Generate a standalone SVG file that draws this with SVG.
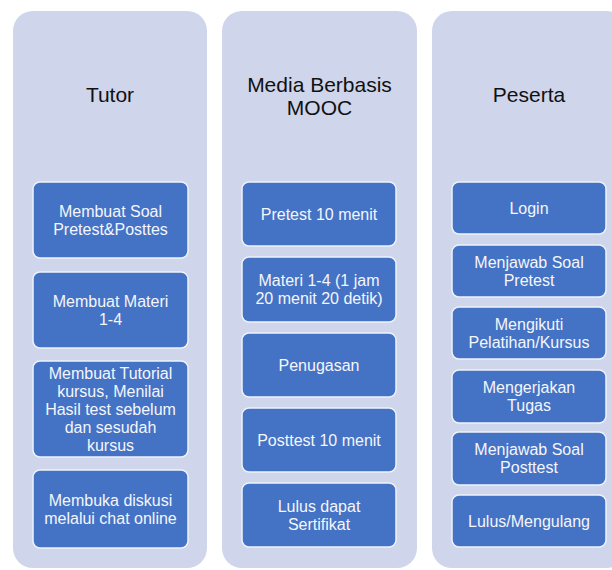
<svg xmlns="http://www.w3.org/2000/svg" width="612" height="570" viewBox="0 0 612 570">
<style>
.panel{fill:#cfd5ea;}
.box{fill:#4472c4;stroke:#eef2fa;stroke-width:1.5;}
.title{font-family:"Liberation Sans",Arial,sans-serif;font-size:21px;fill:#111;text-anchor:middle;}
.lbl{font-family:"Liberation Sans",Arial,sans-serif;font-size:16px;fill:#f4f6fb;text-anchor:middle;}
</style>
<rect width="612" height="570" fill="#ffffff"/>
<g id="col-tutor">
<rect class="panel" x="13" y="11" width="194" height="557" rx="20"/>
<text class="title" x="110" y="102">Tutor</text>
</g>
<g id="col-media">
<rect class="panel" x="222" y="11" width="195" height="557" rx="20"/>
<text class="title" x="319.5" y="91.5">Media Berbasis</text>
<text class="title" x="319.5" y="115">MOOC</text>
</g>
<g id="col-peserta">
<rect class="panel" x="432" y="11" width="195" height="557" rx="20"/>
<text class="title" x="529" y="102">Peserta</text>
</g>
<g id="connectors"></g>
<!-- Tutor boxes -->
<g id="t1"><rect class="box" x="33" y="182" width="155" height="76" rx="7"/>
<text class="lbl" x="110.5" y="216.7">Membuat Soal</text><text class="lbl" x="110.5" y="234.7">Pretest&amp;Posttes</text></g>
<g id="t2"><rect class="box" x="33" y="272" width="155" height="76" rx="7"/>
<text class="lbl" x="110.5" y="306.7">Membuat Materi</text><text class="lbl" x="110.5" y="324.7">1-4</text></g>
<g id="t3"><rect class="box" x="33" y="361" width="155" height="96" rx="7"/>
<text class="lbl" x="110.5" y="378.7">Membuat Tutorial</text><text class="lbl" x="110.5" y="396.7">kursus, Menilai</text><text class="lbl" x="110.5" y="414.7">Hasil test sebelum</text><text class="lbl" x="110.5" y="432.7">dan sesudah</text><text class="lbl" x="110.5" y="450.7">kursus</text></g>
<g id="t4"><rect class="box" x="33" y="470" width="155" height="78" rx="7"/>
<text class="lbl" x="110.5" y="505.7">Membuka diskusi</text><text class="lbl" x="110.5" y="523.7">melalui chat online</text></g>
<!-- Media boxes -->
<g id="m1"><rect class="box" x="242" y="182" width="154" height="64" rx="7"/>
<text class="lbl" x="319" y="219.7">Pretest 10 menit</text></g>
<g id="m2"><rect class="box" x="242" y="257" width="154" height="65" rx="7"/>
<text class="lbl" x="319" y="286.2">Materi 1-4 (1 jam</text><text class="lbl" x="319" y="304.2">20 menit 20 detik)</text></g>
<g id="m3"><rect class="box" x="242" y="333" width="154" height="64" rx="7"/>
<text class="lbl" x="319" y="370.7">Penugasan</text></g>
<g id="m4"><rect class="box" x="242" y="408" width="154" height="64" rx="7"/>
<text class="lbl" x="319" y="445.7">Posttest 10 menit</text></g>
<g id="m5"><rect class="box" x="242" y="483" width="154" height="64" rx="7"/>
<text class="lbl" x="319" y="511.7">Lulus dapat</text><text class="lbl" x="319" y="529.7">Sertifikat</text></g>
<!-- Peserta boxes -->
<g id="p1"><rect class="box" x="452" y="182" width="154" height="52" rx="7"/>
<text class="lbl" x="529" y="213.7">Login</text></g>
<g id="p2"><rect class="box" x="452" y="245" width="154" height="52" rx="7"/>
<text class="lbl" x="529" y="267.7">Menjawab Soal</text><text class="lbl" x="529" y="285.7">Pretest</text></g>
<g id="p3"><rect class="box" x="452" y="307" width="154" height="52" rx="7"/>
<text class="lbl" x="529" y="329.7">Mengikuti</text><text class="lbl" x="529" y="347.7">Pelatihan/Kursus</text></g>
<g id="p4"><rect class="box" x="452" y="370" width="154" height="53" rx="7"/>
<text class="lbl" x="529" y="393.2">Mengerjakan</text><text class="lbl" x="529" y="411.2">Tugas</text></g>
<g id="p5"><rect class="box" x="452" y="432" width="154" height="53" rx="7"/>
<text class="lbl" x="529" y="455.2">Menjawab Soal</text><text class="lbl" x="529" y="473.2">Posttest</text></g>
<g id="p6"><rect class="box" x="452" y="495" width="154" height="52" rx="7"/>
<text class="lbl" x="529" y="526.7">Lulus/Mengulang</text></g>
</svg>
